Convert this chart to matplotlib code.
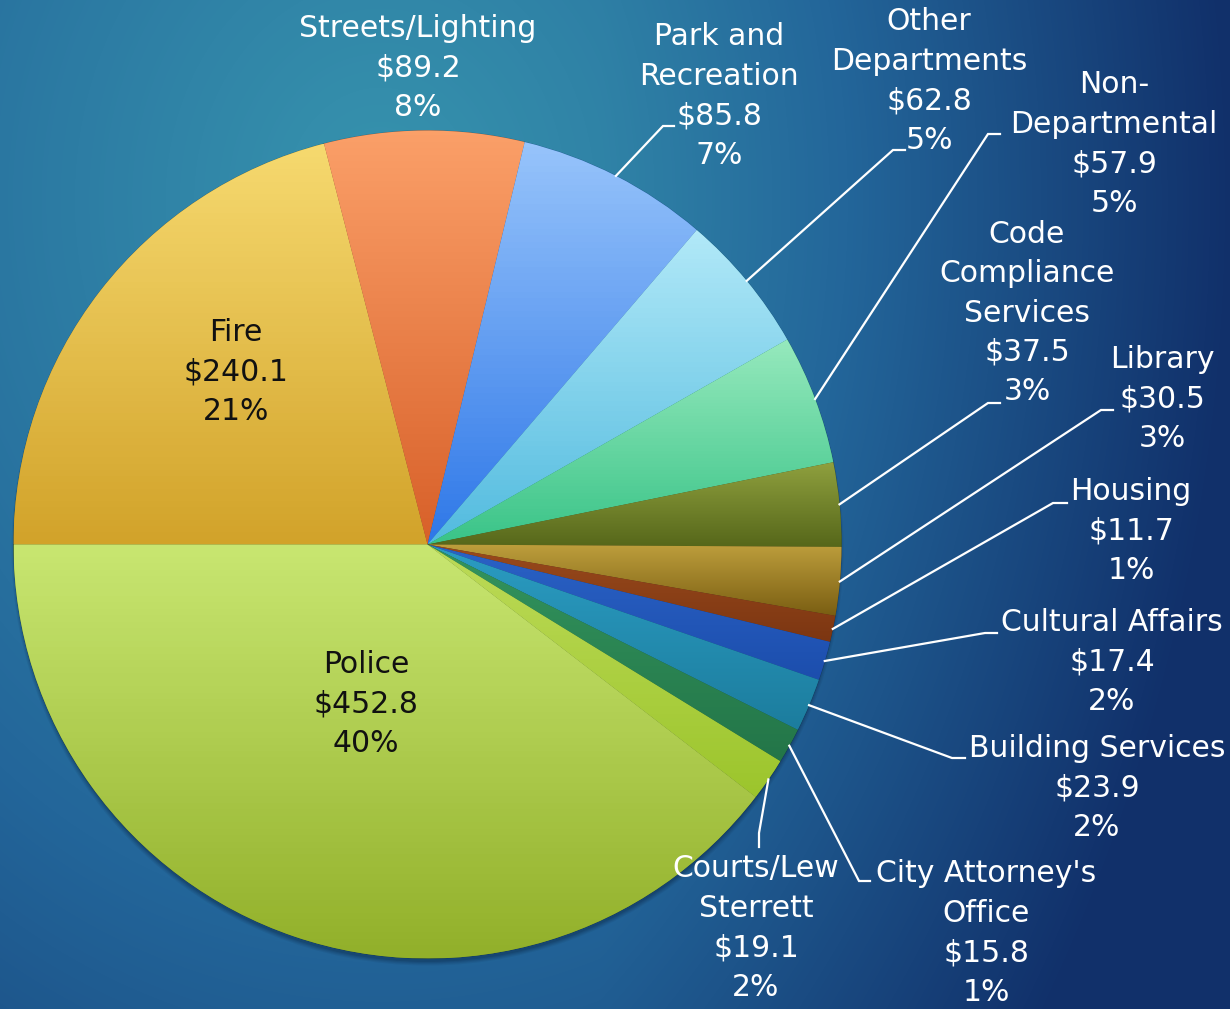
"""Dallas-style general fund budget pie: departments, $ millions and share."""

import matplotlib

matplotlib.use("Agg")
import matplotlib.pyplot as plt
import numpy as np
from matplotlib.colors import LinearSegmentedColormap, to_rgb

W, H = 1230, 1009

# ---- data (clockwise from 9 o'clock) ----
departments = [
    "Fire", "Streets/Lighting", "Park and\nRecreation", "Other\nDepartments",
    "Non-\nDepartmental", "Code\nCompliance\nServices", "Library", "Housing",
    "Cultural Affairs", "Building Services", "City Attorney's\nOffice",
    "Courts/Lew\nSterrett", "Police",
]
amounts = [240.1, 89.2, 85.8, 62.8, 57.9, 37.5, 30.5, 11.7, 17.4, 23.9, 15.8, 19.1, 452.8]

# slice gradient (top, bottom)
slice_colors = [
    ("#f6d96f", "#d2a32a"), ("#fba068", "#d8602a"), ("#97c4fb", "#2f78e8"),
    ("#b2e9f8", "#52bbdf"), ("#96e9bd", "#3ac488"), ("#8fa03e", "#56671a"),
    ("#bd9e3c", "#7a5e12"), ("#9a4a1c", "#7c3612"), ("#2b62c6", "#1c4ead"),
    ("#2b9cc2", "#1c7d9e"), ("#33955e", "#237548"), ("#bddb58", "#9cc52c"),
    ("#c8e671", "#92b02a"),
]

# label layout in pixel coords: text centre, leader elbow, leader end
label_pos = {
    0: (236, 372), 1: (418, 68), 2: (719, 96), 3: (929, 81), 4: (1114, 144),
    5: (1027, 313), 6: (1162, 399), 7: (1131, 531), 8: (1112, 662),
    9: (1097, 788), 10: (986, 933), 11: (756, 928), 12: (366, 704),
}
leaders = {
    2: ((663, 126), (674, 126)), 3: ((893, 150), (905, 150)),
    4: ((988, 134), (1000, 134)), 5: ((988, 403), (1000, 403)),
    6: ((1101, 410), (1113, 410)), 7: ((1053, 503), (1067, 503)),
    8: ((985, 633), (997, 633)), 9: ((952, 758), (965, 758)),
    10: ((859, 881), (870, 881)), 11: ((759, 833), (759, 847)),
}
dark_labels = {0, 12}

CX, CY, R = 427.5, 1009 - 544.5, 414


def py(y):
    return H - y


fig = plt.figure(figsize=(W / 100, H / 100), dpi=100)
ax = fig.add_axes([0, 0, 1, 1])

# background gradient
yy, xx = np.mgrid[0:H, 0:W]
t = 0.9 * np.sqrt(((xx - 380) / 1100) ** 2 + ((yy - 200) / 1300) ** 2) \
    + 0.3 * np.clip((xx - 600) / 630, 0, None)
bg_cmap = LinearSegmentedColormap.from_list("bg", ["#3794ae", "#23669a", "#11306a"])
ax.imshow(np.clip(t, 0, 1), cmap=bg_cmap, vmin=0, vmax=1, extent=[0, W, 0, H],
          origin="upper", zorder=0)

# soft shadow under the pie (mostly below)
for k, a in enumerate([0.08, 0.10, 0.12, 0.16]):
    ax.add_patch(plt.Circle((CX, CY - 5), R + 2 - 1.2 * k, color="#0a1f3a",
                            alpha=a, lw=0, zorder=1))

wedges, _ = ax.pie(amounts, startangle=180, counterclock=False, radius=R,
                   center=(CX, CY), colors=[c[1] for c in slice_colors],
                   wedgeprops=dict(linewidth=0.6, edgecolor=(0, 0, 0, 0.2)),
                   frame=True)

total = sum(amounts)
for i, w in enumerate(wedges):
    w.set_zorder(2)
    # vertical gradient clipped to the wedge
    ext = w.get_path().get_extents(w.get_patch_transform())
    top, bot = np.array(to_rgb(slice_colors[i][0])), np.array(to_rgb(slice_colors[i][1]))
    g = np.linspace(0, 1, 64)[:, None, None]
    img = top * (1 - g) + bot * g
    im = ax.imshow(img, extent=[ext.x0, ext.x1, ext.y0, ext.y1], origin="upper",
                   aspect="auto", zorder=2.5)
    im.set_clip_path(w)

    pct = round(100 * amounts[i] / total)
    txt = f"{departments[i]}\n${amounts[i]:.1f}\n{pct}%"
    tx, ty = label_pos[i]
    ax.text(tx, py(ty), txt, ha="center", va="center", multialignment="center",
            fontsize=21.5, linespacing=1.45, family="DejaVu Sans",
            color="#111111" if i in dark_labels else "white", zorder=5)

    if i in leaders:
        mid = np.deg2rad((w.theta1 + w.theta2) / 2)
        sx, sy = CX + R * np.cos(mid), CY + R * np.sin(mid)
        (ex, ey), (fx, fy) = leaders[i]
        ax.plot([sx, ex, fx], [sy, py(ey), py(fy)], color="white", lw=1.6,
                solid_joinstyle="miter", zorder=4)

ax.set_xlim(0, W)
ax.set_ylim(0, H)
ax.set_aspect("auto")
ax.axis("off")
fig.savefig("out.png", dpi=100)
